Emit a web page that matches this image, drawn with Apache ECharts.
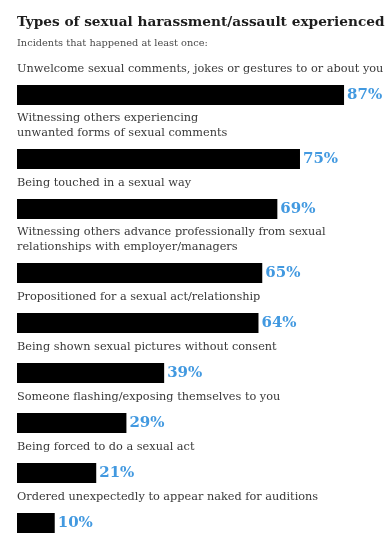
<!DOCTYPE html>
<html>
<head>
<meta charset="utf-8">
<script src="https://cdn.jsdelivr.net/npm/echarts@6/dist/echarts.min.js"></script>
<style>
html,body{margin:0;padding:0;background:#fff;}
#chart{width:385px;height:536px;}
</style>
</head>
<body>
<div id="chart"></div>
<script>
var titleText = "Types of sexual harassment/assault experienced";
var subtitleText = "Incidents that happened at least once:";
var categories = [
  "Unwelcome sexual comments, jokes or gestures to or about you",
  "Witnessing others experiencing\nunwanted forms of sexual comments",
  "Being touched in a sexual way",
  "Witnessing others advance professionally from sexual\nrelationships with employer/managers",
  "Propositioned for a sexual act/relationship",
  "Being shown sexual pictures without consent",
  "Someone flashing/exposing themselves to you",
  "Being forced to do a sexual act",
  "Ordered unexpectedly to appear naked for auditions"
];
var values = [87, 75, 69, 65, 64, 39, 29, 21, 10];

(function () {
  var chart = echarts.init(document.getElementById('chart'));
  var FONT = '"DejaVu Serif", serif';
  var grids = [], xAxes = [], yAxes = [], series = [];
  var gridTop = 85;
  for (var i = 0; i < categories.length; i++) {
    var lines = categories[i].split('\n').length;
    if (i > 0) gridTop += 36 + 14 * lines;
    grids.push({left: 17, top: gridTop, width: 366, height: 20, containLabel: false});
    xAxes.push({gridIndex: i, type: 'value', min: 0, max: 97, show: false, splitLine: {show: false}});
    yAxes.push({
      gridIndex: i, type: 'category', data: [String(i)],
      axisLine: {show: false}, axisTick: {show: false}, axisLabel: {show: false}, splitLine: {show: false},
      name: categories[i], nameLocation: 'end', nameGap: 8,
      nameTextStyle: {align: 'left', verticalAlign: 'bottom', fontFamily: FONT, fontSize: 11.3, color: '#383838', lineHeight: 15}
    });
    series.push({
      type: 'bar', xAxisIndex: i, yAxisIndex: i, data: [values[i]], barWidth: 20,
      itemStyle: {color: '#000'}, silent: true, animation: false,
      label: {show: true, position: 'right', distance: 3, formatter: '{c}%', color: '#4299e0', fontFamily: FONT, fontWeight: 'bold', fontSize: 15}
    });
  }
  chart.setOption({
    backgroundColor: '#fff',
    animation: false,
    title: {
      text: titleText, subtext: subtitleText, left: 12, top: 10, itemGap: 9,
      textStyle: {fontFamily: FONT, fontWeight: 'bold', fontSize: 13.7, color: '#1e1e1e'},
      subtextStyle: {fontFamily: FONT, fontSize: 9.8, color: '#4a4a4a'}
    },
    grid: grids, xAxis: xAxes, yAxis: yAxes, series: series
  });
})();
</script>
</body>
</html>
